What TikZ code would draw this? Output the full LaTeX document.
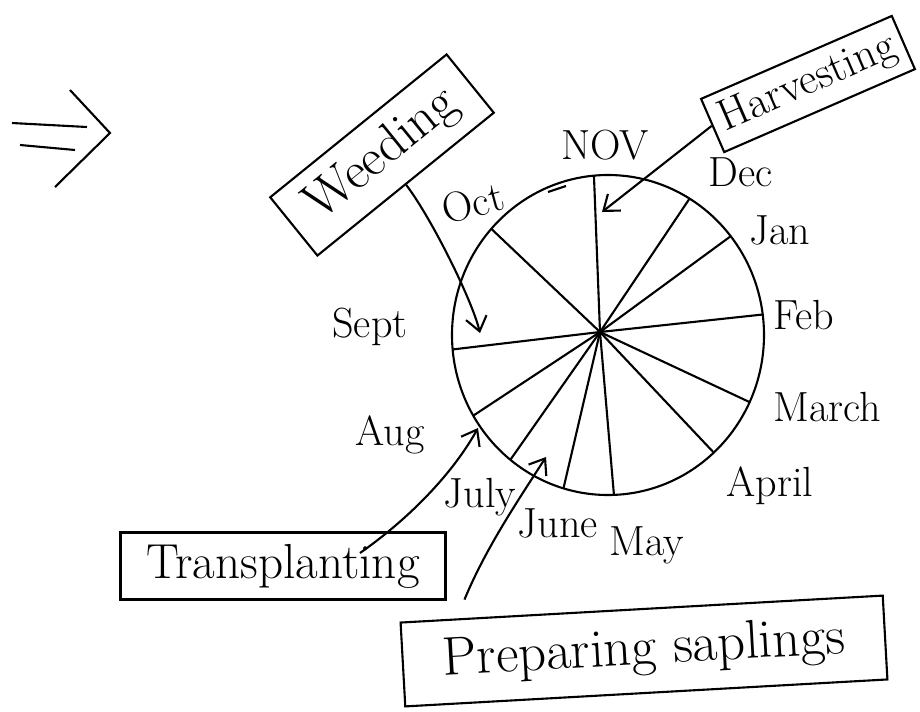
\documentclass[tikz,border=0pt]{standalone}
\usepackage{fontspec}
\usepackage{tikz}
\usetikzlibrary{arrows.meta}

\begin{document}
\begin{tikzpicture}[
      x=0.02cm, y=-0.02cm,
      line width=1.2pt,
      >={Straight Barb[length=8pt,width=12pt]},
      task/.style={draw, inner sep=0pt, align=center},
      month/.style={font=\fontsize{24}{26}\selectfont}]
    \useasboundingbox (0,0) rectangle (920,711);
    \coordinate (wheel) at (608,335);
    \coordinate (hub) at (600,332);
    \draw (wheel) ellipse [x radius=156, y radius=160];
    \begin{scope}
      \clip (wheel) ellipse [x radius=156, y radius=160];
      \foreach \x/\y in {593/151, 700/183, 746/225, 786/312, 775/414, 733/473,
                         616/519, 557/516, 499/476, 450/431, 431/352, 482/220}
        \draw (hub) -- (\x,\y);
    \end{scope}
    \draw (548,192) -- (566,186);
    \draw (12,123) -- (87,127);
    \draw (20,145) -- (75,150);
    \draw (70,90) -- (110,133) -- (55,187);
    \node[month] (nov) at (605,145) {NOV};
    \node[month] (dec) at (741,172) {Dec};
    \node[month] (jan) at (780,230) {Jan};
    \node[month] (feb) at (804,315) {Feb};
    \node[month] (mar) at (827,407) {March};
    \node[month] (apr) at (770,486) {April};
    \node[month] (may) at (647,545) {May};
    \node[month] (jun) at (558,523) {June};
    \node[month] (jul) at (480,497) {July};
    \node[month] (aug) at (390,435) {Aug};
    \node[month] (sep) at (370,327) {Sept};
    \node[month, rotate=15] (oct) at (473,203) {Oct};
    \node[task, rotate=39, minimum width=4.54cm, minimum height=1.5cm,
          font=\fontsize{30}{32}\selectfont] (weed) at (382,155) {Weeding};
    \node[task, rotate=23.5, minimum width=4.16cm, minimum height=1.16cm,
          font=\fontsize{25}{27}\selectfont] (harv) at (808,84) {Harvesting};
    \node[task, minimum width=6.5cm, minimum height=1.34cm,
          font=\fontsize{28}{30}\selectfont] (trans) at (283,566) {Transplanting};
    \node[task, rotate=3.2, minimum width=9.66cm, minimum height=1.68cm,
          font=\fontsize{31}{33}\selectfont] (prep) at (644,651) {Preparing saplings};
    \coordinate (novtip) at (602,212);
    \coordinate (weedtip) at (480,333);
    \coordinate (augtip) at (478,428);
    \coordinate (preptip) at (546,457);
    \draw[->] (harv.west) -- (novtip);
    \draw[->] (weed.south) .. controls (432,219) and (472,300) .. (weedtip);
    \draw[->] ([xshift=1.54cm,yshift=0.26cm]trans.center) .. controls (410,518) and (453,473) .. (augtip);
    \draw[->] ([xshift=1.3cm,yshift=0.44cm]prep.north west) .. controls (485,550) and (515,505) .. (preptip);
  \end{tikzpicture}
\end{document}
